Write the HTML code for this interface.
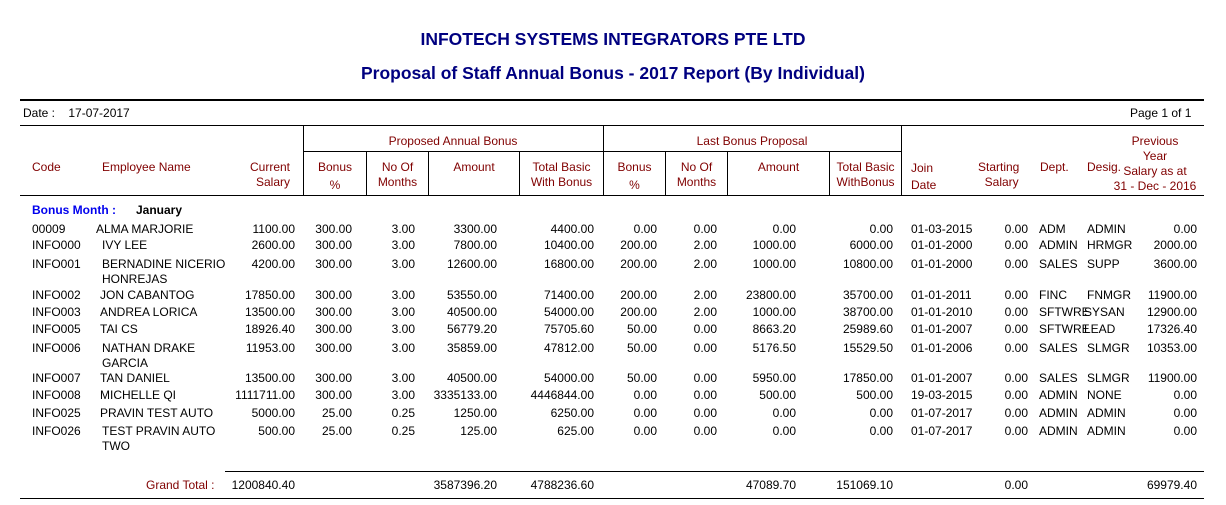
<!DOCTYPE html>
<html><head><meta charset="utf-8"><style>
body{margin:0;width:1226px;height:505px;background:#fff;position:relative;overflow:hidden;font-family:"Liberation Sans",Arial,sans-serif;font-size:12px;color:#000}
div{position:absolute;white-space:nowrap}
.t{left:0;width:1226px;text-align:center;color:#000080;font-weight:bold}
.h{background:#000}
.hd{color:#800000;line-height:15px}
.r{height:14px;line-height:14px;left:0;width:1226px}
.r div{top:0}
.R{text-align:right;width:120px}
.c0{left:32px}.c1{left:100px}
.c2{left:175px}.c3{left:232px}.c4{left:295px}.c5{left:377px}.c6{left:474px}
.c7{left:537px}.c8{left:597px}.c9{left:676px}.c10{left:773px}
.c11{left:911px}.c12{left:908px}.c13{left:1039px}.c14{left:1087px}.c15{left:1077px}
</style></head><body>
<div class="t" style="top:29px;font-size:17.5px;">INFOTECH SYSTEMS INTEGRATORS PTE LTD</div>
<div class="t" style="top:63px;font-size:17.5px;">Proposal of Staff Annual Bonus - 2017 Report (By Individual)</div>
<div class="h" style="left:20px;top:99px;width:1184px;height:2px"></div>
<div style="left:23px;top:106px">Date :&nbsp;&nbsp;&nbsp; 17-07-2017</div>
<div style="left:1130px;top:106px">Page 1 of 1</div>
<div class="h" style="left:20px;top:125px;width:1184px;height:1px"></div>
<div class="h" style="left:303px;top:151px;width:598px;height:1px"></div>
<div class="h" style="left:20px;top:195px;width:1184px;height:1px"></div>
<div class="h" style="left:303px;top:125px;width:1px;height:70px"></div>
<div class="h" style="left:603px;top:125px;width:1px;height:70px"></div>
<div class="h" style="left:901px;top:125px;width:1px;height:70px"></div>
<div class="h" style="left:366px;top:151px;width:1px;height:44px"></div>
<div class="h" style="left:428px;top:151px;width:1px;height:44px"></div>
<div class="h" style="left:519px;top:151px;width:1px;height:44px"></div>
<div class="h" style="left:665px;top:151px;width:1px;height:44px"></div>
<div class="h" style="left:727px;top:151px;width:1px;height:44px"></div>
<div class="h" style="left:829px;top:151px;width:1px;height:44px"></div>
<div class="hd" style="left:303px;width:300px;text-align:center;top:134px">Proposed Annual Bonus</div>
<div class="hd" style="left:603px;width:298px;text-align:center;top:134px">Last Bonus Proposal</div>
<div class="hd" style="left:32px;top:160px">Code</div>
<div class="hd" style="left:102px;top:160px">Employee Name</div>
<div class="hd" style="left:230px;width:60px;text-align:right;top:160px">Current<br>Salary</div>
<div class="hd" style="left:304px;width:62px;text-align:center;top:160px">Bonus<br><span style="position:relative;top:3px">%</span></div>
<div class="hd" style="left:367px;width:61px;text-align:center;top:160px">No Of<br>Months</div>
<div class="hd" style="left:429px;width:90px;text-align:center;top:160px">Amount</div>
<div class="hd" style="left:520px;width:83px;text-align:center;top:160px">Total Basic<br>With Bonus</div>
<div class="hd" style="left:604px;width:61px;text-align:center;top:160px">Bonus<br><span style="position:relative;top:3px">%</span></div>
<div class="hd" style="left:666px;width:61px;text-align:center;top:160px">No Of<br>Months</div>
<div class="hd" style="left:728px;width:101px;text-align:center;top:160px">Amount</div>
<div class="hd" style="left:830px;width:71px;text-align:center;top:160px">Total Basic<br>WithBonus</div>
<div class="hd" style="left:911px;top:160px;line-height:17px">Join<br>Date</div>
<div class="hd" style="left:978px;top:160px">Starting<br>&nbsp;&nbsp;Salary</div>
<div class="hd" style="left:1040px;top:160px">Dept.</div>
<div class="hd" style="left:1087px;top:160px">Desig.</div>
<div class="hd" style="left:1110px;width:90px;text-align:center;top:134px">Previous<br>Year<br>Salary as at<br>31 - Dec - 2016</div>
<div style="left:32px;top:203px;color:#0000ee;font-weight:bold">Bonus Month :</div>
<div style="left:136px;top:203px;font-weight:bold">January</div>

<div class="r" style="top:222px"><div class="c0">00009</div><div class="c1" style="left:96px">ALMA MARJORIE</div><div class="R c2">1100.00</div><div class="R c3">300.00</div><div class="R c4">3.00</div><div class="R c5">3300.00</div><div class="R c6">4400.00</div><div class="R c7">0.00</div><div class="R c8">0.00</div><div class="R c9">0.00</div><div class="R c10">0.00</div><div class="c11">01-03-2015</div><div class="R c12">0.00</div><div class="c13">ADM</div><div class="c14">ADMIN</div><div class="R c15">0.00</div></div>
<div class="r" style="top:238px"><div class="c0">INFO000</div><div class="c1" style="left:102px">IVY LEE</div><div class="R c2">2600.00</div><div class="R c3">300.00</div><div class="R c4">3.00</div><div class="R c5">7800.00</div><div class="R c6">10400.00</div><div class="R c7">200.00</div><div class="R c8">2.00</div><div class="R c9">1000.00</div><div class="R c10">6000.00</div><div class="c11">01-01-2000</div><div class="R c12">0.00</div><div class="c13">ADMIN</div><div class="c14">HRMGR</div><div class="R c15">2000.00</div></div>
<div class="r" style="top:257px"><div class="c0">INFO001</div><div class="c1" style="left:102px;line-height:15px">BERNADINE NICERIO<br>HONREJAS</div><div class="R c2">4200.00</div><div class="R c3">300.00</div><div class="R c4">3.00</div><div class="R c5">12600.00</div><div class="R c6">16800.00</div><div class="R c7">200.00</div><div class="R c8">2.00</div><div class="R c9">1000.00</div><div class="R c10">10800.00</div><div class="c11">01-01-2000</div><div class="R c12">0.00</div><div class="c13">SALES</div><div class="c14">SUPP</div><div class="R c15">3600.00</div></div>
<div class="r" style="top:288px"><div class="c0">INFO002</div><div class="c1">JON CABANTOG</div><div class="R c2">17850.00</div><div class="R c3">300.00</div><div class="R c4">3.00</div><div class="R c5">53550.00</div><div class="R c6">71400.00</div><div class="R c7">200.00</div><div class="R c8">2.00</div><div class="R c9">23800.00</div><div class="R c10">35700.00</div><div class="c11">01-01-2011</div><div class="R c12">0.00</div><div class="c13">FINC</div><div class="c14">FNMGR</div><div class="R c15">11900.00</div></div>
<div class="r" style="top:305px"><div class="c0">INFO003</div><div class="c1">ANDREA LORICA</div><div class="R c2">13500.00</div><div class="R c3">300.00</div><div class="R c4">3.00</div><div class="R c5">40500.00</div><div class="R c6">54000.00</div><div class="R c7">200.00</div><div class="R c8">2.00</div><div class="R c9">1000.00</div><div class="R c10">38700.00</div><div class="c11">01-01-2010</div><div class="R c12">0.00</div><div class="c13">SFTWRE</div><div class="c14" style="left:1084px">SYSAN</div><div class="R c15">12900.00</div></div>
<div class="r" style="top:322px"><div class="c0">INFO005</div><div class="c1">TAI CS</div><div class="R c2">18926.40</div><div class="R c3">300.00</div><div class="R c4">3.00</div><div class="R c5">56779.20</div><div class="R c6">75705.60</div><div class="R c7">50.00</div><div class="R c8">0.00</div><div class="R c9">8663.20</div><div class="R c10">25989.60</div><div class="c11">01-01-2007</div><div class="R c12">0.00</div><div class="c13">SFTWRE</div><div class="c14" style="left:1084px">LEAD</div><div class="R c15">17326.40</div></div>
<div class="r" style="top:341px"><div class="c0">INFO006</div><div class="c1" style="left:102px;line-height:15px">NATHAN DRAKE<br>GARCIA</div><div class="R c2">11953.00</div><div class="R c3">300.00</div><div class="R c4">3.00</div><div class="R c5">35859.00</div><div class="R c6">47812.00</div><div class="R c7">50.00</div><div class="R c8">0.00</div><div class="R c9">5176.50</div><div class="R c10">15529.50</div><div class="c11">01-01-2006</div><div class="R c12">0.00</div><div class="c13">SALES</div><div class="c14">SLMGR</div><div class="R c15">10353.00</div></div>
<div class="r" style="top:371px"><div class="c0">INFO007</div><div class="c1">TAN DANIEL</div><div class="R c2">13500.00</div><div class="R c3">300.00</div><div class="R c4">3.00</div><div class="R c5">40500.00</div><div class="R c6">54000.00</div><div class="R c7">50.00</div><div class="R c8">0.00</div><div class="R c9">5950.00</div><div class="R c10">17850.00</div><div class="c11">01-01-2007</div><div class="R c12">0.00</div><div class="c13">SALES</div><div class="c14">SLMGR</div><div class="R c15">11900.00</div></div>
<div class="r" style="top:388px"><div class="c0">INFO008</div><div class="c1">MICHELLE QI</div><div class="R c2">1111711.00</div><div class="R c3">300.00</div><div class="R c4">3.00</div><div class="R c5">3335133.00</div><div class="R c6">4446844.00</div><div class="R c7">0.00</div><div class="R c8">0.00</div><div class="R c9">500.00</div><div class="R c10">500.00</div><div class="c11">19-03-2015</div><div class="R c12">0.00</div><div class="c13">ADMIN</div><div class="c14">NONE</div><div class="R c15">0.00</div></div>
<div class="r" style="top:406px"><div class="c0">INFO025</div><div class="c1">PRAVIN TEST AUTO</div><div class="R c2">5000.00</div><div class="R c3">25.00</div><div class="R c4">0.25</div><div class="R c5">1250.00</div><div class="R c6">6250.00</div><div class="R c7">0.00</div><div class="R c8">0.00</div><div class="R c9">0.00</div><div class="R c10">0.00</div><div class="c11">01-07-2017</div><div class="R c12">0.00</div><div class="c13">ADMIN</div><div class="c14">ADMIN</div><div class="R c15">0.00</div></div>
<div class="r" style="top:424px"><div class="c0">INFO026</div><div class="c1" style="left:102px;line-height:15px">TEST PRAVIN AUTO<br>TWO</div><div class="R c2">500.00</div><div class="R c3">25.00</div><div class="R c4">0.25</div><div class="R c5">125.00</div><div class="R c6">625.00</div><div class="R c7">0.00</div><div class="R c8">0.00</div><div class="R c9">0.00</div><div class="R c10">0.00</div><div class="c11">01-07-2017</div><div class="R c12">0.00</div><div class="c13">ADMIN</div><div class="c14">ADMIN</div><div class="R c15">0.00</div></div>

<div class="h" style="left:225px;top:471px;width:979px;height:1px"></div>
<div class="r" style="top:478px"><div style="left:146px;color:#800000">Grand Total :</div><div class="R c2">1200840.40</div><div class="R c5">3587396.20</div><div class="R c6">4788236.60</div><div class="R c9">47089.70</div><div class="R c10">151069.10</div><div class="R c12">0.00</div><div class="R c15">69979.40</div></div>
<div class="h" style="left:20px;top:498px;width:1184px;height:1px"></div>
</body></html>
